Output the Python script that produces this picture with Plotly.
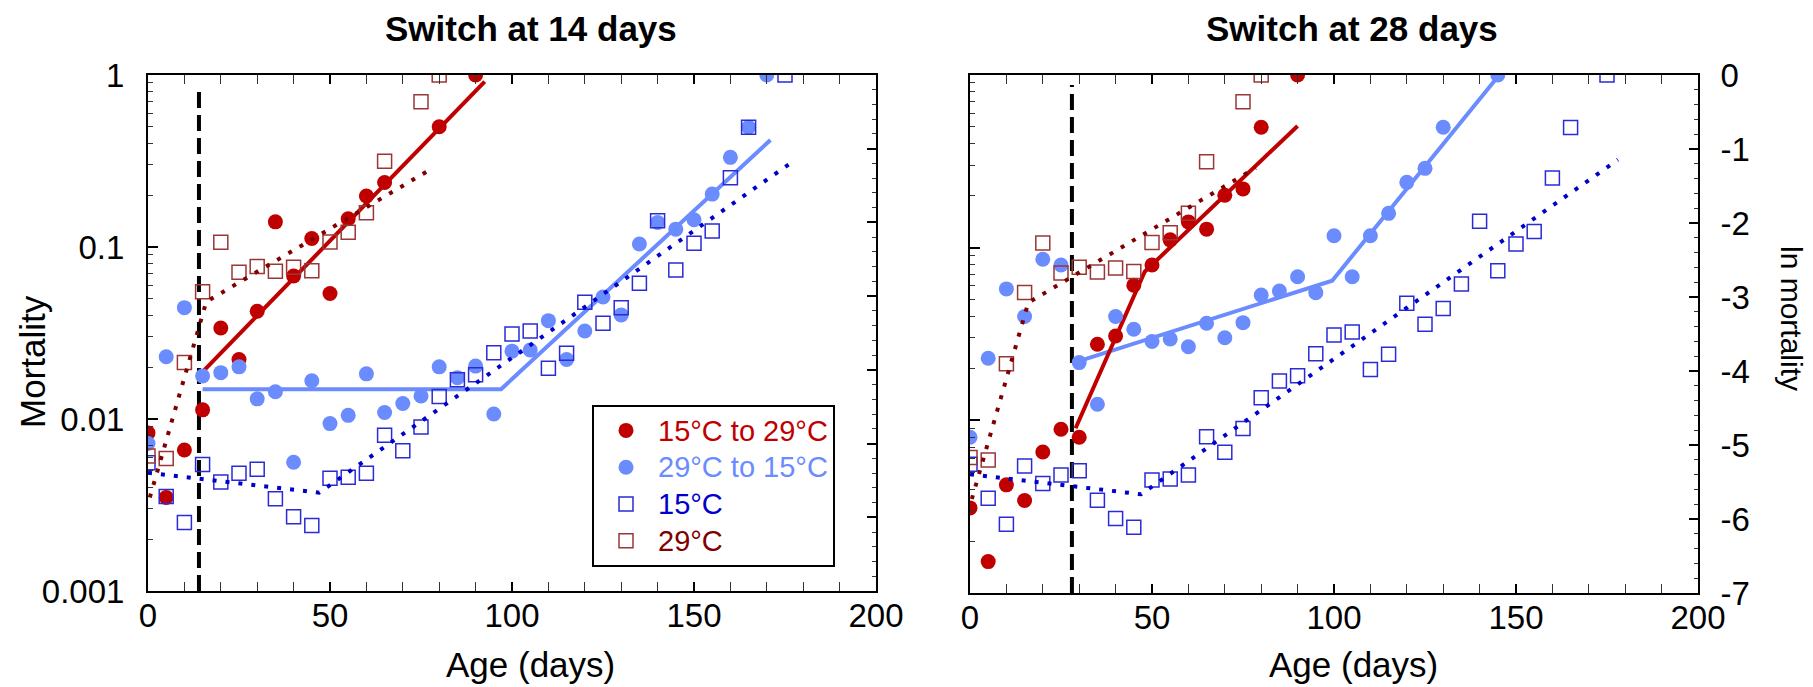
import plotly.graph_objects as go

W, H = 1813, 687
FONT = "Liberation Sans, Arial, Helvetica, sans-serif"

# ---------------- data ----------------
SWITCH_DAYS = [14, 28]
DASH_TOP = 0.875

# Controls (identical in both panels)
ctrl15_x = [0, 5, 10, 15, 20, 25, 30, 35, 40, 45, 50, 55, 60, 65, 70, 75, 80, 85, 90, 95,
            100, 105, 110, 115, 120, 125, 130, 135, 140, 145, 150, 155, 160, 165, 175]
ctrl15_y = [0.00557, 0.00354, 0.0025, 0.00543, 0.0043, 0.00483, 0.0051, 0.00344, 0.0027, 0.0024,
            0.00452, 0.00458, 0.00483, 0.00804, 0.00654, 0.00898, 0.0135, 0.0169, 0.0181, 0.0243,
            0.0312, 0.0325, 0.0197, 0.0241, 0.0477, 0.036, 0.0444, 0.0615, 0.142, 0.0735,
            0.105, 0.124, 0.253, 0.497, 1.0]
ctrl29_x = [0, 5, 10, 15, 20, 25, 30, 35, 40, 45, 50, 55, 60, 65, 75, 80]
ctrl29_y = [0.0061, 0.0059, 0.0213, 0.055, 0.1065, 0.0713, 0.0769, 0.0722, 0.0762, 0.0728,
            0.107, 0.122, 0.158, 0.315, 0.70, 1.0]

fit15_x = [0, 47, 178]
fit15_y = [0.00487, 0.00373, 0.323]
fit29_x = [0.5, 16, 78.5]
fit29_y = [0.0035, 0.048, 0.29]

# Switch at 14 days
red14_x = [0, 5, 10, 15, 20, 25, 30, 35, 40, 45, 50, 55, 60, 65, 80, 90]
red14_y = [0.0083, 0.0035, 0.0066, 0.0113, 0.0338, 0.0222, 0.0423, 0.140, 0.0678, 0.112,
           0.0537, 0.146, 0.198, 0.237, 0.50, 1.0]
blue14_x = [0, 5, 10, 15, 20, 25, 30, 35, 40, 45, 50, 55, 60, 65, 70, 75, 80, 85, 90, 95,
            100, 105, 110, 115, 120, 125, 130, 135, 140, 145, 150, 155, 160, 165, 170]
blue14_y = [0.0072, 0.023, 0.0444, 0.0178, 0.0186, 0.0201, 0.0131, 0.0144, 0.0056, 0.0167,
            0.0094, 0.0105, 0.0183, 0.0109, 0.0123, 0.0136, 0.0201, 0.0174, 0.0203, 0.0107,
            0.0248, 0.0252, 0.0373, 0.0222, 0.0325, 0.0512, 0.0403, 0.104, 0.139, 0.127,
            0.144, 0.203, 0.332, 0.497, 1.0]
fitred14_x = [15, 92.5]
fitred14_y = [0.0188, 0.915]
fitblue14_x = [15, 97, 171]
fitblue14_y = [0.0149, 0.0149, 0.419]

# Switch at 28 days
red28_x = [0, 5, 10, 15, 20, 25, 30, 35, 40, 45, 50, 55, 60, 65, 70, 75, 80, 90]
red28_y = [0.00311, 0.00152, 0.00423, 0.00343, 0.00656, 0.00888, 0.00798, 0.0276, 0.0308,
           0.0606, 0.0794, 0.111, 0.141, 0.128, 0.201, 0.219, 0.498, 1.0]
blue28_x = [0, 5, 10, 15, 20, 25, 30, 35, 40, 45, 50, 55, 60, 65, 70, 75, 80, 85, 90, 95,
            100, 105, 110, 115, 120, 125, 130, 145]
blue28_y = [0.00798, 0.0229, 0.0577, 0.0399, 0.0857, 0.0794, 0.0216, 0.0124, 0.0399, 0.0337,
            0.0286, 0.0296, 0.0267, 0.0365, 0.0301, 0.0368, 0.0532, 0.0561, 0.0679, 0.0549,
            0.1173, 0.0679, 0.1173, 0.158, 0.239, 0.288, 0.498, 1.0]
fitred28_x = [29, 48, 90]
fitred28_y = [0.0090, 0.0726, 0.507]
fitblue28_x = [29.5, 99.5, 145]
fitblue28_y = [0.0219, 0.0644, 0.977]

TITLES = ["Switch at 14 days", "Switch at 28 days"]
X_LABEL = "Age (days)"
Y_LABEL = "Mortality"
Y2_LABEL = "ln mortality"
LEG_NAMES = ["15°C to 29°C", "29°C to 15°C", "15°C", "29°C"]
LOG_TICKS = [0.001, 0.01, 0.1, 1]
LOG_TICKTEXT = ["0.001", "0.01", "0.1", "1"]
LN_TICKS = [-7, -6, -5, -4, -3, -2, -1, 0]

# ---------------- style ----------------
C_RED = "#c00000"
C_LBLUE = "#6a8cff"
C_SQ_BLUE = "#2a2ad6"
C_DBLUE = "#0000cc"
C_SQ_BROWN = "#9a3636"
C_DRED = "#800000"


def leg(name, color):
    return f"<span style='color:{color};font-size:29px'>{name}</span>"


fig = go.Figure()


def panel(xa, ya, red_x, red_y, blue_x, blue_y, fr_x, fr_y, fb_x, fb_y, sw, legend):
    # vertical dashed switch line
    fig.add_trace(go.Scatter(x=[sw, sw], y=[LOG_TICKS[0], DASH_TOP], mode="lines",
                             line=dict(color="black", width=4, dash="16px,7px"),
                             xaxis=xa, yaxis=ya, showlegend=False, hoverinfo="skip"))
    # solid fits
    fig.add_trace(go.Scatter(x=fb_x, y=fb_y, mode="lines", line=dict(color=C_LBLUE, width=4),
                             xaxis=xa, yaxis=ya, showlegend=False))
    fig.add_trace(go.Scatter(x=fr_x, y=fr_y, mode="lines", line=dict(color=C_RED, width=4),
                             xaxis=xa, yaxis=ya, showlegend=False))
    # circles
    fig.add_trace(go.Scatter(x=red_x, y=red_y, mode="markers",
                             marker=dict(symbol="circle", size=15, color=C_RED),
                             name=leg(LEG_NAMES[0], C_RED),
                             legendrank=1, xaxis=xa, yaxis=ya, showlegend=legend))
    fig.add_trace(go.Scatter(x=blue_x, y=blue_y, mode="markers",
                             marker=dict(symbol="circle", size=15, color=C_LBLUE),
                             name=leg(LEG_NAMES[1], C_LBLUE),
                             legendrank=2, xaxis=xa, yaxis=ya, showlegend=legend))
    # squares
    fig.add_trace(go.Scatter(x=ctrl15_x, y=ctrl15_y, mode="markers",
                             marker=dict(symbol="square-open", size=14, color=C_SQ_BLUE,
                                         line=dict(width=1.5)),
                             name=leg(LEG_NAMES[2], C_DBLUE),
                             legendrank=3, xaxis=xa, yaxis=ya, showlegend=legend))
    fig.add_trace(go.Scatter(x=ctrl29_x, y=ctrl29_y, mode="markers",
                             marker=dict(symbol="square-open", size=14, color=C_SQ_BROWN,
                                         line=dict(width=1.5)),
                             name=leg(LEG_NAMES[3], C_DRED),
                             legendrank=4, xaxis=xa, yaxis=ya, showlegend=legend))
    # dotted control fits
    fig.add_trace(go.Scatter(x=fit15_x, y=fit15_y, mode="lines",
                             line=dict(color=C_DBLUE, width=4, dash="4px,9px"),
                             xaxis=xa, yaxis=ya, showlegend=False))
    fig.add_trace(go.Scatter(x=fit29_x, y=fit29_y, mode="lines",
                             line=dict(color=C_DRED, width=4, dash="4px,9px"),
                             xaxis=xa, yaxis=ya, showlegend=False))


panel("x", "y", red14_x, red14_y, blue14_x, blue14_y, fitred14_x, fitred14_y,
      fitblue14_x, fitblue14_y, SWITCH_DAYS[0], True)
panel("x2", "y3", red28_x, red28_y, blue28_x, blue28_y, fitred28_x, fitred28_y,
      fitblue28_x, fitblue28_y, SWITCH_DAYS[1], False)

# empty traces so that the secondary (ln) axes get drawn
fig.add_trace(go.Scatter(x=[], y=[], xaxis="x", yaxis="y2", showlegend=False, hoverinfo="skip"))
fig.add_trace(go.Scatter(x=[], y=[], xaxis="x2", yaxis="y4", showlegend=False, hoverinfo="skip"))

# ---------------- axes ----------------
TICKFONT = dict(family=FONT, size=33, color="black")


def xaxis(dom, anchor):
    return dict(domain=dom, anchor=anchor, range=[0, 200], tickmode="linear", tick0=0, dtick=50,
                ticks="inside", ticklen=9, tickwidth=1.5, tickcolor="black",
                minor=dict(ticks="inside", tickmode="linear", tick0=0, dtick=10, ticklen=5,
                           tickwidth=1.2, tickcolor="#333"),
                showline=True, linecolor="black", linewidth=2, mirror="allticks",
                showgrid=False, zeroline=False, tickfont=TICKFONT, ticklabelstandoff=-6,
                automargin=False)


minor_log = [m * v for v in LOG_TICKS[:-1] for m in range(2, 10)]


def ylog(dom, anchor, labels):
    return dict(domain=dom, anchor=anchor, type="log", range=[-3, 0], tickmode="array",
                tickvals=LOG_TICKS, ticktext=LOG_TICKTEXT, ticks="inside", ticklen=10,
                tickwidth=1.5, tickcolor="black",
                minor=dict(tickmode="array", tickvals=minor_log, ticks="inside", ticklen=5,
                           tickwidth=1.2, tickcolor="#333"),
                showline=True, linecolor="black", linewidth=2, mirror=False,
                showgrid=False, zeroline=False, showticklabels=labels, tickfont=TICKFONT,
                ticklabelstandoff=15, automargin=False)


def yln(over, anchor, labels):
    return dict(overlaying=over, anchor=anchor, side="right", range=[-7, 0], tickmode="array",
                tickvals=LN_TICKS, ticktext=[str(v) for v in LN_TICKS], ticks="inside",
                ticklen=9, tickwidth=1.5, tickcolor="black",
                minor=dict(ticks="inside", tickmode="linear", tick0=0, dtick=0.2, ticklen=4,
                           tickwidth=1.2, tickcolor="#333"),
                showline=True, linecolor="black", linewidth=2, showgrid=False, zeroline=False,
                showticklabels=labels, tickfont=TICKFONT, ticklabelstandoff=14,
                automargin=False)


LX = [148 / W, 876 / W]
RX = [970 / W, 1698 / W]
LY = [1 - 591 / H, 1 - 75 / H]
RY = [1 - 593 / H, 1 - 75 / H]

annotations = [
    dict(text=f"<b>{TITLES[0]}</b>", x=531 / W, y=1 - 29 / H, xref="paper", yref="paper",
         showarrow=False, xanchor="center", yanchor="middle",
         font=dict(family=FONT, size=35, color="black")),
    dict(text=f"<b>{TITLES[1]}</b>", x=1352 / W, y=1 - 29 / H, xref="paper", yref="paper",
         showarrow=False, xanchor="center", yanchor="middle",
         font=dict(family=FONT, size=35, color="black")),
    dict(text=X_LABEL, x=530 / W, y=1 - 664 / H, xref="paper", yref="paper", showarrow=False,
         xanchor="center", yanchor="middle", font=dict(family=FONT, size=35, color="black")),
    dict(text=X_LABEL, x=1353 / W, y=1 - 664 / H, xref="paper", yref="paper", showarrow=False,
         xanchor="center", yanchor="middle", font=dict(family=FONT, size=35, color="black")),
    dict(text=Y_LABEL, x=32 / W, y=1 - 362 / H, xref="paper", yref="paper", showarrow=False,
         textangle=-90, xanchor="center", yanchor="middle",
         font=dict(family=FONT, size=35, color="black")),
    dict(text=Y2_LABEL, x=1792 / W, y=1 - 318 / H, xref="paper", yref="paper", showarrow=False,
         textangle=90, xanchor="center", yanchor="middle",
         font=dict(family=FONT, size=30, color="black")),
]

fig.update_layout(
    width=W, height=H, autosize=False,
    margin=dict(l=0, r=0, t=0, b=0, pad=0, autoexpand=False),
    paper_bgcolor="white", plot_bgcolor="white",
    font=dict(family=FONT, color="black"),
    xaxis=xaxis(LX, "y"),
    yaxis=ylog(LY, "x", True),
    yaxis2=yln("y", "x", False),
    xaxis2=xaxis(RX, "y3"),
    yaxis3=ylog(RY, "x2", False),
    yaxis4=yln("y3", "x2", True),
    annotations=annotations,
    showlegend=True,
    legend=dict(x=592 / W, y=1 - 405 / H, xanchor="left", yanchor="top",
                bordercolor="black", borderwidth=2, bgcolor="white",
                font=dict(family=FONT, size=26), itemwidth=54, tracegroupgap=0,
                traceorder="normal"),
)

fig.write_html("out.html", config={"displayModeBar": False})
